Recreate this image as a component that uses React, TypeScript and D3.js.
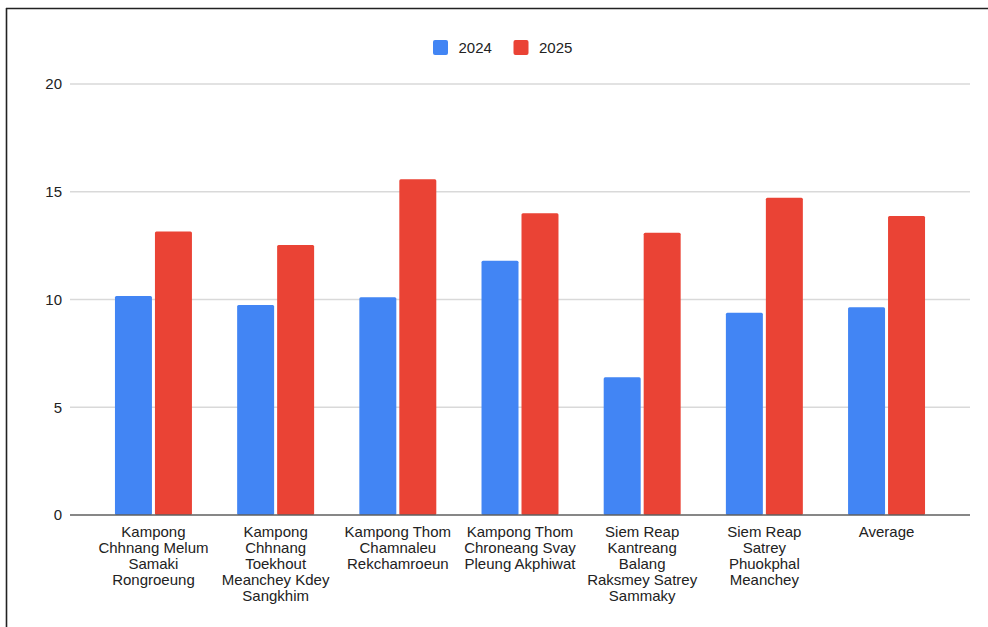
import React from "react";
import * as d3 from "d3";

// Grouped bar data: two years per site, plus the overall average
const categories = [
  "Kampong Chhnang Melum Samaki Rongroeung",
  "Kampong Chhnang Toekhout Meanchey Kdey Sangkhim",
  "Kampong Thom Chamnaleu Rekchamroeun",
  "Kampong Thom Chroneang Svay Pleung Akphiwat",
  "Siem Reap Kantreang Balang Raksmey Satrey Sammaky",
  "Siem Reap Satrey Phuokphal Meanchey",
  "Average",
];

// Wrapped tick labels, one array of lines per category
const tickLines = [
  ["Kampong", "Chhnang Melum", "Samaki", "Rongroeung"],
  ["Kampong", "Chhnang", "Toekhout", "Meanchey Kdey", "Sangkhim"],
  ["Kampong Thom", "Chamnaleu", "Rekchamroeun"],
  ["Kampong Thom", "Chroneang Svay", "Pleung Akphiwat"],
  ["Siem Reap", "Kantreang", "Balang", "Raksmey Satrey", "Sammaky"],
  ["Siem Reap", "Satrey", "Phuokphal", "Meanchey"],
  ["Average"],
];

const seriesNames = ["2024", "2025"];
const values2024 = [10.16, 9.74, 10.1, 11.8, 6.39, 9.39, 9.64];
const values2025 = [13.15, 12.53, 15.58, 14.0, 13.1, 14.72, 13.87];
const yTicks = [0, 5, 10, 15, 20];

const colors = ["#4285f4", "#ea4335"];
const FONT = "'Liberation Sans', Arial, sans-serif";

export default function App() {
  const width = 988;
  const height = 627;
  const left = 70;
  const right = 970;
  const top = 84;
  const bottom = 515;

  const x = d3
    .scaleBand<string>()
    .domain(categories)
    .range([left, right])
    .paddingInner(0.37)
    .paddingOuter(0.368);

  const xs = d3
    .scaleBand<string>()
    .domain(seriesNames)
    .range([0, x.bandwidth()])
    .paddingInner(0.075);

  const y = d3.scaleLinear().domain([0, 20]).range([bottom, top]);

  const series = [values2024, values2025];

  return (
    <div style={{ position: "absolute", left: 0, top: 0 }}>
      <svg width={width} height={height} style={{ display: "block", background: "#fff" }} fontFamily={FONT}>
        {/* frame */}
        <line x1={6} y1={8.5} x2={width} y2={8.5} stroke="#222" strokeWidth={1.6} />
        <line x1={6.5} y1={8} x2={6.5} y2={height} stroke="#222" strokeWidth={1.6} />

        {/* legend */}
        {seriesNames.map((s, i) => {
          const lx = i === 0 ? 433 : 513.5;
          return (
            <g key={s}>
              <rect x={lx} y={40} width={15} height={15} rx={2} fill={colors[i]} />
              <text x={lx + 25.5} y={52.7} fontSize={15} fill="#222">
                {s}
              </text>
            </g>
          );
        })}

        {/* gridlines and y labels */}
        {yTicks.map((t) => (
          <g key={t}>
            {t !== 0 && (
              <line x1={left} x2={right} y1={y(t)} y2={y(t)} stroke="#d9d9d9" strokeWidth={1.3} />
            )}
            <text x={62} y={y(t)} dy="0.36em" textAnchor="end" fontSize={15} fill="#222">
              {t}
            </text>
          </g>
        ))}

        {/* bars */}
        {categories.map((c, ci) => (
          <g key={c} transform={`translate(${x(c)},0)`}>
            {series.map((vals, si) => {
              const v = vals[ci];
              return (
                <rect
                  key={si}
                  x={xs(seriesNames[si])}
                  y={y(v)}
                  width={xs.bandwidth()}
                  height={y(0) - y(v)}
                  rx={1.5}
                  fill={colors[si]}
                />
              );
            })}
          </g>
        ))}

        {/* baseline */}
        <line x1={left} x2={right} y1={y(0)} y2={y(0)} stroke="#5f5f5f" strokeWidth={1.5} />

        {/* x labels */}
        {categories.map((c, ci) => {
          const cx = (x(c) as number) + x.bandwidth() / 2;
          return (
            <text key={c} textAnchor="middle" fontSize={15} fill="#222">
              {tickLines[ci].map((line, li) => (
                <tspan key={li} x={cx} y={536.5 + li * 16}>
                  {line}
                </tspan>
              ))}
            </text>
          );
        })}
      </svg>
    </div>
  );
}
